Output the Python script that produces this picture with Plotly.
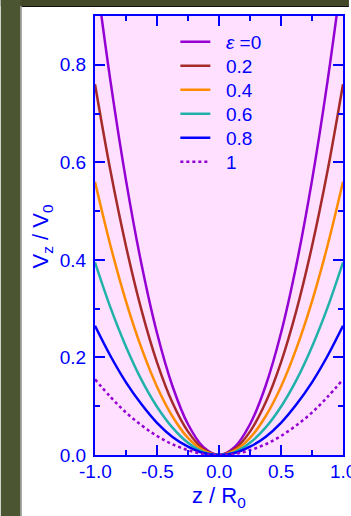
import plotly.graph_objects as go

# ---- data ----
z = [-1.0, -0.875, -0.75, -0.625, -0.5, -0.375, -0.25, -0.125, 0.0,
     0.125, 0.25, 0.375, 0.5, 0.625, 0.75, 0.875, 1.0]

v_eps0 = [1.000, 0.766, 0.563, 0.391, 0.250, 0.141, 0.063, 0.016, 0.0,
          0.016, 0.063, 0.141, 0.250, 0.391, 0.563, 0.766, 1.000]
v_eps02 = [0.760, 0.582, 0.428, 0.297, 0.190, 0.107, 0.048, 0.012, 0.0,
           0.012, 0.048, 0.107, 0.190, 0.297, 0.428, 0.582, 0.760]
v_eps04 = [0.560, 0.429, 0.315, 0.219, 0.140, 0.079, 0.035, 0.009, 0.0,
           0.009, 0.035, 0.079, 0.140, 0.219, 0.315, 0.429, 0.560]
v_eps06 = [0.395, 0.302, 0.222, 0.154, 0.099, 0.056, 0.025, 0.006, 0.0,
           0.006, 0.025, 0.056, 0.099, 0.154, 0.222, 0.302, 0.395]
v_eps08 = [0.265, 0.203, 0.149, 0.104, 0.066, 0.037, 0.017, 0.004, 0.0,
           0.004, 0.017, 0.037, 0.066, 0.104, 0.149, 0.203, 0.265]
v_eps1 = [0.155, 0.119, 0.087, 0.061, 0.039, 0.022, 0.010, 0.002, 0.0,
          0.002, 0.010, 0.022, 0.039, 0.061, 0.087, 0.119, 0.155]

series_names = ["<i>ε</i> =0", "0.2", "0.4", "0.6", "0.8", "1"]
series_values = [v_eps0, v_eps02, v_eps04, v_eps06, v_eps08, v_eps1]
series_colors = ["#9400d3", "#a52a2a", "#ff8c00", "#20b2aa", "#0000ff", "#9400d3"]
series_dash = ["solid", "solid", "solid", "solid", "solid", "dot"]

x_ticks = [-1.0, -0.5, 0.0, 0.5, 1.0]
x_ticklabels = ["-1.0", "-0.5", "0.0", "0.5", "1.0"]
y_ticks = [0.0, 0.2, 0.4, 0.6, 0.8]
y_ticklabels = ["0.0", "0.2", "0.4", "0.6", "0.8"]

BLUE = "#0000ff"
FONT = "Liberation Sans, Arial, sans-serif"
W, H = 351, 516
ML, MR, MT, MB = 95, 6, 16, 61
PW, PH = W - ML - MR, H - MT - MB

def px_x(p):
    return (p - ML) / PW

def px_y(p):
    return (H - MB - p) / PH

legend_ids = ["legend", "legend2", "legend3", "legend4", "legend5", "legend6"]
legend_row_px = [42, 66, 90, 114, 138, 162]
GAP = "\u00a0\u00a0"

fig = go.Figure()
for name, vals, col, dash, lid in zip(series_names, series_values, series_colors, series_dash, legend_ids):
    fig.add_trace(go.Scatter(
        x=z, y=vals, mode="lines", name=GAP + name,
        line=dict(color=col, width=2.5, dash=dash, shape="spline", smoothing=1.0),
        legend=lid,
    ))

TICKFONT = dict(family=FONT, size=19, color=BLUE)
axis_common = dict(
    showline=True, linecolor=BLUE, linewidth=2, mirror="ticks",
    ticks="inside", ticklen=10, tickwidth=1.5, tickcolor=BLUE,
    showgrid=False, zeroline=False,
    tickfont=TICKFONT,
)

legend_layout = {}
for lid, rowpx in zip(legend_ids, legend_row_px):
    legend_layout[lid] = dict(
        x=px_x(176), y=px_y(rowpx), xanchor="left", yanchor="middle",
        bgcolor="rgba(0,0,0,0)", borderwidth=0,
        font=dict(family=FONT, size=19, color=BLUE),
    )

# x tick labels drawn as annotations at their tick values (last one runs off the page edge, as in the reference)
x_label_annotations = [
    dict(text=lab, xref="x", yref="paper", x=val, y=px_y(471.5),
         xanchor="center", yanchor="middle", showarrow=False, font=TICKFONT)
    for val, lab in zip(x_ticks, x_ticklabels)
]

fig.update_layout(
    width=W, height=H,
    margin=dict(l=ML, r=MR, t=MT, b=MB, pad=0),
    paper_bgcolor="white",
    plot_bgcolor="#ffe0ff",
    showlegend=True,
    xaxis=dict(
        range=[-1, 1], tickvals=x_ticks, ticktext=x_ticklabels, showticklabels=False,
        minor=dict(ticks="inside", ticklen=5, tickwidth=1.5, tickcolor=BLUE, dtick=0.25, tick0=0, showgrid=False),
        **axis_common,
    ),
    yaxis=dict(
        range=[0, 0.9], tickvals=y_ticks, ticktext=y_ticklabels,
        minor=dict(ticks="inside", ticklen=5, tickwidth=1.5, tickcolor=BLUE, dtick=0.1, tick0=0, showgrid=False),
        ticklabelstandoff=3,
        **axis_common,
    ),
    shapes=[
        dict(type="rect", xref="paper", yref="paper", x0=px_x(0), x1=px_x(W), y0=px_y(0), y1=px_y(6),
             fillcolor="#434829", line=dict(width=0), layer="below"),
        dict(type="line", xref="paper", yref="paper", x0=px_x(20), x1=px_x(W), y0=px_y(6.5), y1=px_y(6.5),
             line=dict(color="#111111", width=1), layer="below"),
        dict(type="rect", xref="paper", yref="paper", x0=px_x(0), x1=px_x(20), y0=px_y(0), y1=px_y(H),
             fillcolor="#4b5531", line=dict(width=0), layer="below"),
        dict(type="line", xref="paper", yref="paper", x0=px_x(20.5), x1=px_x(20.5), y0=px_y(6), y1=px_y(H),
             line=dict(color="#9a9a9a", width=1.5), layer="below"),
    ],
    annotations=x_label_annotations + [
        dict(text="z / R<sub>0</sub>", xref="paper", yref="paper", x=0.5, y=px_y(497),
             xanchor="center", yanchor="middle", showarrow=False,
             font=dict(family=FONT, size=22, color=BLUE)),
        dict(text="V<sub>z</sub> / V<sub>0</sub>", xref="paper", yref="paper", x=px_x(42), y=px_y(236),
             xanchor="center", yanchor="middle", showarrow=False, textangle=-90,
             font=dict(family=FONT, size=22, color=BLUE)),
    ],
    **legend_layout,
)

fig.write_html("out.html")
